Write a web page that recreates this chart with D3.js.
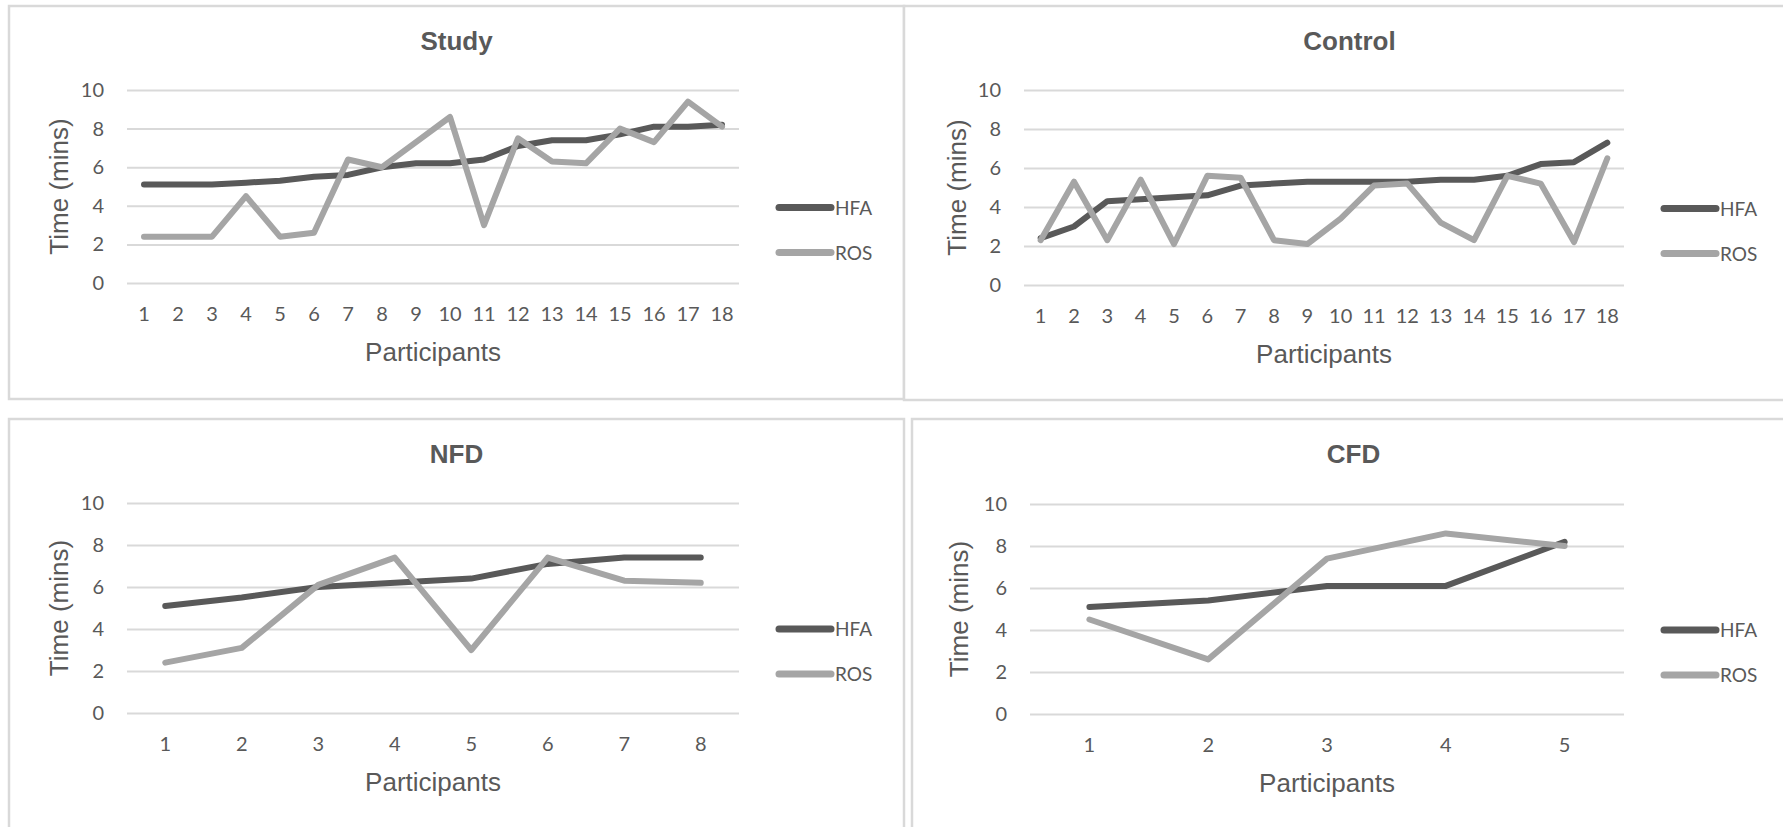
<!DOCTYPE html>
<html>
<head>
<meta charset="utf-8">
<script src="https://cdn.jsdelivr.net/npm/d3@7"></script>
<style>
  html, body { margin: 0; padding: 0; background: #ffffff; }
  svg { display: block; }
</style>
</head>
<body>
<svg id="chart" width="1783" height="827"></svg>
<script>
// ---- data ---------------------------------------------------------------
const seriesNames = ["HFA", "ROS"];
const yTicks = [0, 2, 4, 6, 8, 10];

const studyParticipants = ["1","2","3","4","5","6","7","8","9","10","11","12","13","14","15","16","17","18"];
const studyHFA = [5.1, 5.1, 5.1, 5.2, 5.3, 5.5, 5.6, 6.0, 6.2, 6.2, 6.4, 7.1, 7.4, 7.4, 7.7, 8.1, 8.1, 8.2];
const studyROS = [2.4, 2.4, 2.4, 4.5, 2.4, 2.6, 6.4, 6.0, 7.3, 8.6, 3.0, 7.5, 6.3, 6.2, 8.0, 7.3, 9.4, 8.1];

const controlParticipants = ["1","2","3","4","5","6","7","8","9","10","11","12","13","14","15","16","17","18"];
const controlHFA = [2.4, 3.0, 4.3, 4.4, 4.5, 4.6, 5.1, 5.2, 5.3, 5.3, 5.3, 5.3, 5.4, 5.4, 5.6, 6.2, 6.3, 7.3];
const controlROS = [2.3, 5.3, 2.3, 5.4, 2.1, 5.6, 5.5, 2.3, 2.1, 3.4, 5.1, 5.2, 3.2, 2.3, 5.6, 5.2, 2.2, 6.5];

const nfdParticipants = ["1","2","3","4","5","6","7","8"];
const nfdHFA = [5.1, 5.5, 6.0, 6.2, 6.4, 7.1, 7.4, 7.4];
const nfdROS = [2.4, 3.1, 6.1, 7.4, 3.0, 7.4, 6.3, 6.2];

const cfdParticipants = ["1","2","3","4","5"];
const cfdHFA = [5.1, 5.4, 6.1, 6.1, 8.2];
const cfdROS = [4.5, 2.6, 7.4, 8.6, 8.0];

// ---- panel layout -------------------------------------------------------
const panels = [
  { title: "Study",   cats: studyParticipants,   hfa: studyHFA,   ros: studyROS,
    box: [9, 6, 904, 399],    plot: [127, 90, 739, 283],   yTitleX: 68 },
  { title: "Control", cats: controlParticipants, hfa: controlHFA, ros: controlROS,
    box: [904, 6, 1795, 400], plot: [1024, 90, 1624, 285], yTitleX: 966 },
  { title: "NFD",     cats: nfdParticipants,     hfa: nfdHFA,     ros: nfdROS,
    box: [9, 419, 904, 840],  plot: [127, 503, 739, 713],  yTitleX: 68 },
  { title: "CFD",     cats: cfdParticipants,     hfa: cfdHFA,     ros: cfdROS,
    box: [912, 419, 1795, 840], plot: [1030, 504, 1624, 714], yTitleX: 968 }
];

const colors = { HFA: "#595959", ROS: "#a5a5a5" };
const textColor = "#595959";
const gridColor = "#d9d9d9";
const tickFont = "Lato, 'Open Sans', sans-serif";
const labelFont = "'Liberation Sans', Arial, sans-serif";

const svg = d3.select("#chart");

panels.forEach(p => {
  const [bx0, by0, bx1, by1] = p.box;
  const [px0, py0, px1, py1] = p.plot;
  const g = svg.append("g");

  // frame
  g.append("rect")
    .attr("x", bx0).attr("y", by0)
    .attr("width", bx1 - bx0).attr("height", by1 - by0)
    .attr("fill", "#ffffff")
    .attr("stroke", gridColor)
    .attr("stroke-width", 2.5);

  // title
  g.append("text")
    .attr("x", (bx0 + bx1) / 2)
    .attr("y", by0 + 44)
    .attr("text-anchor", "middle")
    .attr("font-family", labelFont)
    .attr("font-weight", "bold")
    .attr("font-size", 26)
    .attr("fill", textColor)
    .text(p.title);

  const x = d3.scaleBand().domain(p.cats).range([px0, px1]).padding(0);
  const y = d3.scaleLinear().domain([0, 10]).range([py1, py0]);

  // y axis with gridlines
  const yAxis = d3.axisLeft(y)
    .tickValues(yTicks)
    .tickSizeInner(-(px1 - px0))
    .tickSizeOuter(0)
    .tickPadding(23);
  const yg = g.append("g").attr("transform", `translate(${px0},0)`).call(yAxis);
  yg.select(".domain").remove();
  yg.selectAll(".tick line").attr("stroke", gridColor).attr("stroke-width", 2);
  yg.selectAll(".tick text")
    .attr("font-family", tickFont)
    .attr("font-size", 20)
    .attr("fill", textColor);

  // x axis (category labels only)
  const xAxis = d3.axisBottom(x).tickSize(0).tickPadding(24);
  const xg = g.append("g").attr("transform", `translate(0,${py1})`).call(xAxis);
  xg.select(".domain").remove();
  xg.selectAll(".tick text")
    .attr("font-family", tickFont)
    .attr("font-size", 20)
    .attr("fill", textColor);

  // axis titles
  g.append("text")
    .attr("x", (px0 + px1) / 2)
    .attr("y", py1 + 78)
    .attr("text-anchor", "middle")
    .attr("font-family", labelFont)
    .attr("font-size", 26)
    .attr("fill", textColor)
    .text("Participants");

  g.append("text")
    .attr("transform", `translate(${p.yTitleX},${(py0 + py1) / 2}) rotate(-90)`)
    .attr("text-anchor", "middle")
    .attr("font-family", labelFont)
    .attr("font-size", 26)
    .attr("fill", textColor)
    .text("Time (mins)");

  // series lines
  const line = d3.line()
    .x((d, i) => x(p.cats[i]) + x.bandwidth() / 2)
    .y(d => y(d));

  [["HFA", p.hfa], ["ROS", p.ros]].forEach(([name, vals]) => {
    g.append("path")
      .datum(vals)
      .attr("d", line)
      .attr("fill", "none")
      .attr("stroke", colors[name])
      .attr("stroke-width", 6)
      .attr("stroke-linejoin", "round")
      .attr("stroke-linecap", "round");
  });

  // legend
  const cy = (py0 + py1) / 2;
  seriesNames.forEach((name, i) => {
    const ly = cy + 21 + i * 45;
    g.append("line")
      .attr("x1", px1 + 40).attr("x2", px1 + 92)
      .attr("y1", ly).attr("y2", ly)
      .attr("stroke", colors[name])
      .attr("stroke-width", 7)
      .attr("stroke-linecap", "round");
    g.append("text")
      .attr("x", px1 + 96)
      .attr("y", ly + 7)
      .attr("font-family", tickFont)
      .attr("font-size", 19)
      .attr("fill", textColor)
      .text(name);
  });
});
</script>
</body>
</html>
